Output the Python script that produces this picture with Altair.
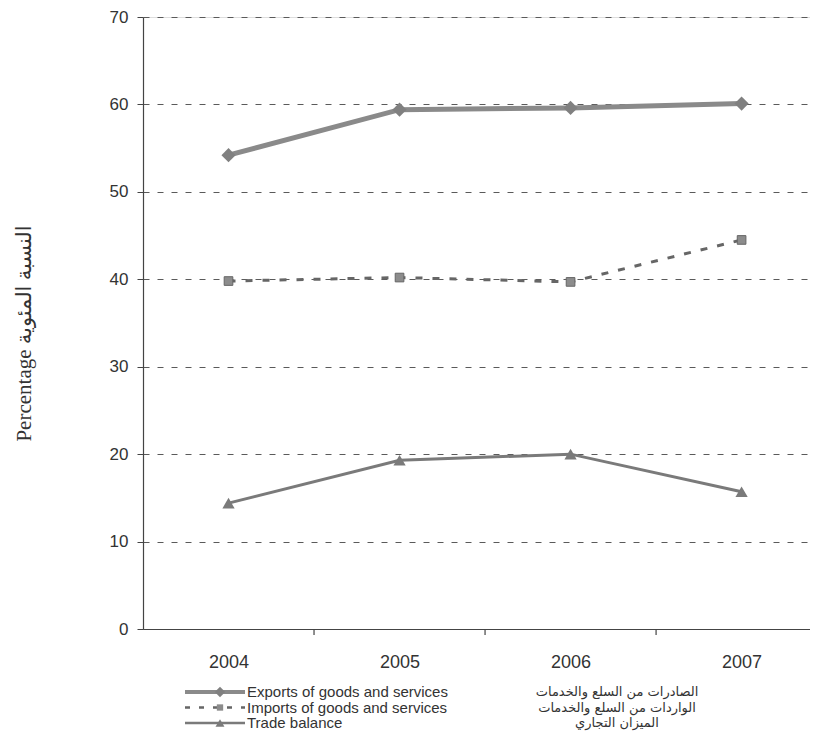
import altair as alt
import pandas as pd

# ---- data ----
years = [2004, 2005, 2006, 2007]
exports = [54.2, 59.4, 59.6, 60.1]
imports = [39.8, 40.2, 39.7, 44.5]
trade_balance = [14.4, 19.3, 20.0, 15.7]
y_ticks = [0, 10, 20, 30, 40, 50, 60, 70]
band_edges = [2004.5, 2005.5, 2006.5]
labels_en = ["Exports of goods and services", "Imports of goods and services", "Trade balance"]
labels_ar = ["الصادرات من السلع والخدمات", "الواردات من السلع والخدمات", "الميزان التجاري"]
y_title = "Percentage  النسبة المئوية"

W, H = 667, 612
x_scale = alt.Scale(domain=[2003.5, 2007.4], nice=False, zero=False)
y_scale = alt.Scale(domain=[0, 70], nice=False)

x_enc = alt.X(
    "year:Q", scale=x_scale,
    axis=alt.Axis(values=years, format="d", ticks=False, grid=False, title=None,
                  labelFontSize=18, labelPadding=24, labelColor="#333",
                  labelFont="Liberation Sans", domainColor="#444", domainWidth=1.2),
)
y_enc = alt.Y(
    "value:Q", scale=y_scale,
    axis=alt.Axis(values=y_ticks, grid=True, gridDash=[6, 8], gridColor="#5a5a5a",
                  gridWidth=1, tickSize=6, tickColor="#444", labelPadding=9,
                  labelFontSize=17, labelColor="#333", labelFont="Liberation Sans",
                  domainColor="#444", domainWidth=1.2,
                  title=y_title, titleFont="Liberation Serif, DejaVu Sans",
                  titleFontSize=21, titleFontWeight="normal", titleColor="#333",
                  titleX=-119, titleY=316, titleAngle=270, titleAlign="center",
                  titleBaseline="middle"),
)


def frame(vals):
    return pd.DataFrame({"year": years, "value": vals})


exp_line = alt.Chart(frame(exports)).mark_line(color="#8a8a8a", strokeWidth=5).encode(x=x_enc, y=y_enc)
exp_pts = alt.Chart(frame(exports)).mark_point(shape="diamond", filled=True, size=200,
                                                color="#808080", opacity=1).encode(x=x_enc, y=y_enc)
imp_line = alt.Chart(frame(imports)).mark_line(color="#666", strokeWidth=3,
                                               strokeDash=[7, 10]).encode(x=x_enc, y=y_enc)
imp_pts = alt.Chart(frame(imports)).mark_point(shape="square", filled=True, size=75,
                                               color="#8c8c8c", stroke="#666", strokeWidth=1,
                                               opacity=1).encode(x=x_enc, y=y_enc)
tb_line = alt.Chart(frame(trade_balance)).mark_line(color="#7a7a7a", strokeWidth=3).encode(x=x_enc, y=y_enc)
tb_pts = alt.Chart(frame(trade_balance)).mark_point(shape="triangle-up", filled=True, size=150,
                                                    color="#7a7a7a", opacity=1).encode(x=x_enc, y=y_enc)

edge_ticks = alt.Chart(pd.DataFrame({"year": band_edges})).mark_rule(
    color="#444", strokeWidth=1.2).encode(x=x_enc, y=alt.value(H), y2=alt.value(H + 6))

# ---- manual legend below the plot ----
row_y = [H + 63, H + 78.5, H + 94]
legend_layers = []
styles = [
    dict(line=dict(color="#8a8a8a", strokeWidth=4), pt=dict(shape="diamond", size=110, color="#808080")),
    dict(line=dict(color="#666", strokeWidth=2.5, strokeDash=[5, 9]), pt=dict(shape="square", size=40, color="#8c8c8c")),
    dict(line=dict(color="#7a7a7a", strokeWidth=2.5), pt=dict(shape="triangle-up", size=80, color="#7a7a7a")),
]
for i in range(3):
    d = pd.DataFrame({"en": [labels_en[i]], "ar": [labels_ar[i]]})
    ry = row_y[i]
    legend_layers.append(alt.Chart(d).mark_rule(**styles[i]["line"]).encode(
        x=alt.value(42), x2=alt.value(102), y=alt.value(ry)))
    legend_layers.append(alt.Chart(d).mark_point(filled=True, opacity=1, **styles[i]["pt"]).encode(
        x=alt.value(77), y=alt.value(ry)))
    legend_layers.append(alt.Chart(d).mark_text(align="left", baseline="middle", fontSize=15,
                                                font="Liberation Sans", color="#333").encode(
        x=alt.value(104), y=alt.value(ry), text="en:N"))
    legend_layers.append(alt.Chart(d).mark_text(align="center", baseline="middle", fontSize=13,
                                                font="DejaVu Sans", color="#333").encode(
        x=alt.value(474), y=alt.value(ry), text="ar:N"))

chart = alt.layer(
    exp_line, exp_pts, imp_line, imp_pts, tb_line, tb_pts, edge_ticks, *legend_layers
).properties(
    width=W, height=H,
    autosize=alt.AutoSizeParams(type="none"),
    padding={"left": 135, "top": 9, "right": 0, "bottom": 106},
).configure_view(stroke=None).configure(background="white")

chart.save("out.html", embed_options={"renderer": "svg", "actions": False})
